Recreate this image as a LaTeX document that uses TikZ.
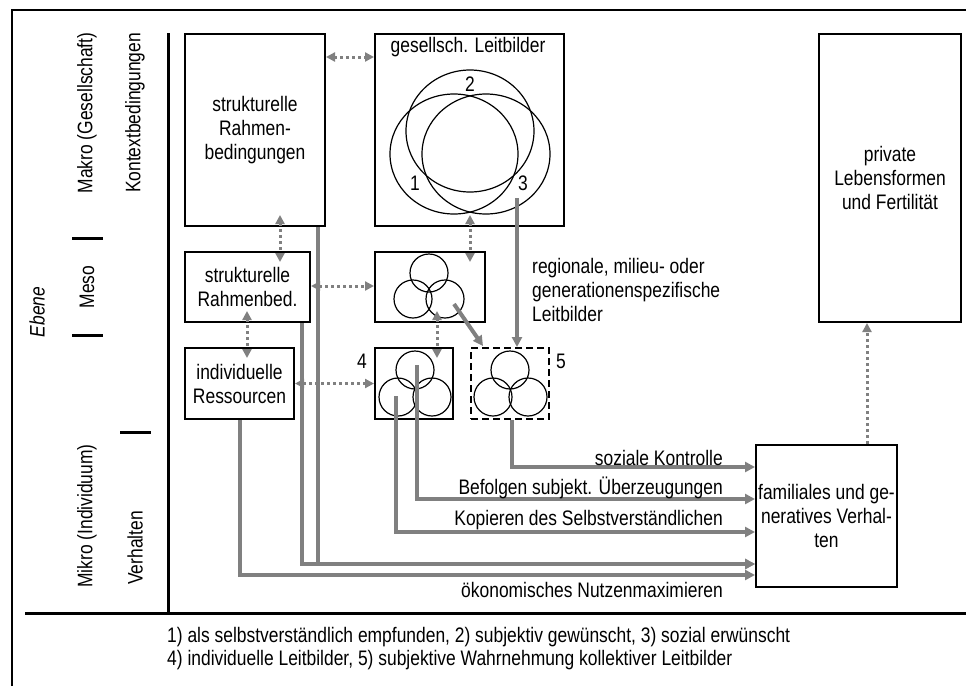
\documentclass[tikz,border=0pt]{standalone}
\usepackage{fontspec}
\setmainfont{Liberation Sans}[FakeStretch=0.83]
\usetikzlibrary{arrows.meta,calc}
\definecolor{lg}{RGB}{128,128,128}
\begin{document}
\begin{tikzpicture}[x=1pt,y=-1pt,
  font=\fontsize{21}{24}\selectfont,
  every node/.style={inner sep=0pt},
  box/.style={draw, line width=2pt, align=center},
  dbox/.style={draw, line width=2pt, dash pattern=on 7pt off 4pt},
  dotarr/.style={draw=lg, line width=3pt, dash pattern=on 3pt off 3pt,
    {Triangle[length=9pt,width=9pt]}-{Triangle[length=9pt,width=9pt]}},
  dotarrone/.style={draw=lg, line width=3pt, dash pattern=on 3pt off 3pt,
    -{Triangle[length=9pt,width=9pt]}},
  vin/.style={shorten <=-12pt, shorten >=-11pt},
  solarr/.style={draw=lg, line width=4pt, -{Triangle[length=10pt,width=10pt]}},
  venn/.style={line width=1.2pt},
  bar/.style={line width=3pt},
  lbl/.style={anchor=east}
]
\useasboundingbox (0,0) rectangle (966,686);
% frame and level structure
\draw[line width=2.5pt] (12,686) -- (12,10) -- (966,10);
\draw[bar] (168,33) -- (168,613);
\draw[bar] (25,613) -- (966,613);
\draw[bar] (72,238) -- (103,238);
\draw[bar] (72,335) -- (103,335);
\draw[bar] (120,432) -- (151,432);

% side labels
\node[rotate=90] (ebene) at (37,312) {\itshape Ebene};
\node[rotate=90] (makro) at (87,113) {Makro (Gesellschaft)};
\node[rotate=90] (kontext) at (135,113) {Kontextbedingungen};
\node[rotate=90] (meso) at (87,287) {Meso};
\node[rotate=90] (mikro) at (87,516) {Mikro (Individuum)};
\node[rotate=90] (verh) at (135,548) {Verhalten};

% boxes
\node[box, minimum width=140pt, minimum height=192pt] (srb) at (255,130) {strukturelle\\Rahmen-\\bedingungen};
\node[box, minimum width=189pt, minimum height=192pt] (gl) at (469.5,130) {};
\node[box, minimum width=142pt, minimum height=288pt] (priv) at (890,178) {private\\Lebensformen\\und Fertilität};
\node[box, minimum width=125pt, minimum height=70pt] (rb) at (247.5,287) {strukturelle\\Rahmenbed.};
\node[box, minimum width=110pt, minimum height=70pt] (ml) at (430,287) {};
\node[box, minimum width=109pt, minimum height=71pt] (res) at (239.5,383.5) {individuelle\\Ressourcen};
\node[box, minimum width=78pt, minimum height=71pt] (il) at (414,383.5) {};
\node[dbox, minimum width=78pt, minimum height=71pt] (sw) at (510,383.5) {};
\node[box, minimum width=141pt, minimum height=142pt] (fam) at (826.5,516) {familiales und ge-\\neratives Verhal-\\ten};

% Venn diagrams
\draw[venn] (470,131) ellipse [x radius=64, y radius=61];
\draw[venn] (454,154) ellipse [x radius=64, y radius=60];
\draw[venn] (486,154) ellipse [x radius=64, y radius=60];
\foreach \cx/\cy in {429/273, 413/299, 445/299, 415/370, 398/397, 432/397, 510/370, 493/397, 528/397}
  \draw[venn] (\cx,\cy) circle [radius=19];

% texts in/around boxes
\node (glt) at (468,47) {gesellsch. Leitbilder};
\node (n2) at (470,84) {2};
\node (n1) at (415,183) {1};
\node (n3) at (523,183) {3};
\node (n4) at (362,361) {4};
\node (n5) at (561,361) {5};
\node[anchor=west, align=left] (reg) at (532,290) {regionale, milieu- oder\\generationenspezifische\\Leitbilder};

% dotted connectors
\draw[dotarr] (srb.east |- 0,57) -- (gl.west |- 0,57);
\draw[dotarr, vin] (srb.south -| 280,0) -- (rb.north -| 280,0);
\draw[dotarr, vin] (gl.south -| 470,0) -- (ml.north -| 470,0);
\draw[dotarr] (rb.east |- 0,286) -- (ml.west |- 0,286);
\draw[dotarr, vin] (rb.south -| 247,0) -- (res.north -| 247,0);
\draw[dotarr] (res.east) -- (il.west);
\draw[dotarr, vin] (ml.south -| 437,0) -- (il.north -| 437,0);
\draw[dotarrone] (fam.north -| 867,0) -- (priv.south -| 867,0);

% solid connectors
\coordinate (p3) at (517,198);
\draw[solarr] (p3) -- (sw.north -| p3);
\coordinate (pd) at (454,304);
\draw[solarr] (pd) -- ($(sw.north west)+(13,-1)$);
\draw[solarr] (sw.south -| 512,0) |- (fam.west |- 0,467);
\coordinate (pb) at (417,365);
\draw[solarr] (pb) |- (fam.west |- 0,499);
\coordinate (pk) at (396,396);
\draw[solarr] (pk) |- (fam.west |- 0,532);
\draw[solarr] (srb.south -| 318,0) |- (fam.west |- 0,564);
\draw[solarr] (rb.south -| 302,0) |- (fam.west |- 0,564);
\draw[solarr] (res.south) |- (fam.west |- 0,575);

% connector labels
\node[lbl] (l1) at (723,458) {soziale Kontrolle};
\node[lbl] (l2) at (723,488) {Befolgen subjekt. Überzeugungen};
\node[lbl] (l3) at (723,520) {Kopieren des Selbstverständlichen};
\node[lbl] (l4) at (723,590) {ökonomisches Nutzenmaximieren};

% footnotes
\node[anchor=west] (fn1) at (167,637) {1) als selbstverständlich empfunden, 2) subjektiv gewünscht, 3) sozial erwünscht};
\node[anchor=west] (fn2) at (167,660) {4) individuelle Leitbilder, 5) subjektive Wahrnehmung kollektiver Leitbilder};
\end{tikzpicture}
\end{document}
